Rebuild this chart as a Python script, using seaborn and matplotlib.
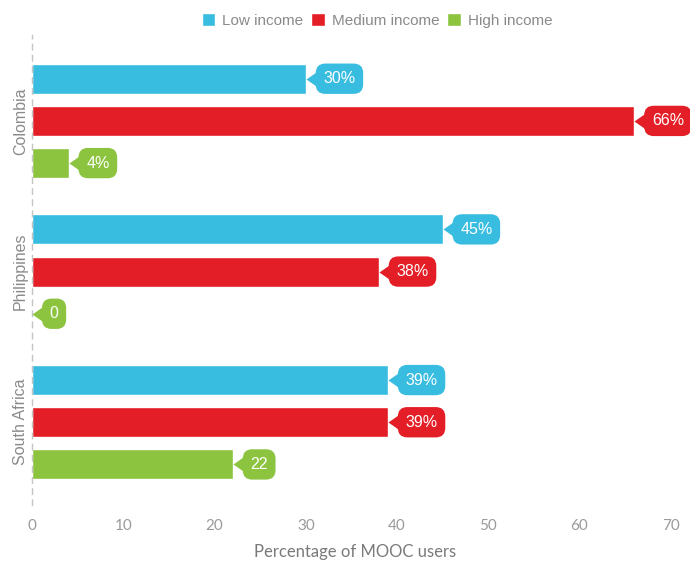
import pandas as pd
import seaborn as sns
import matplotlib.pyplot as plt

countries = ["Colombia", "Philippines", "South Africa"]
income_groups = ["Low income", "Medium income", "High income"]
low_income = [30, 45, 39]
medium_income = [66, 38, 39]
high_income = [4, 0, 22]
low_labels = ["30%", "45%", "39%"]
medium_labels = ["66%", "38%", "39%"]
high_labels = ["4%", "0", "22"]
x_ticks = [0, 10, 20, 30, 40, 50, 60, 70]

colors = ["#38BDE0", "#E41E26", "#8CC43F"]

rows = []
for grp, vals, labs in zip(income_groups,
                           [low_income, medium_income, high_income],
                           [low_labels, medium_labels, high_labels]):
    for c, v, l in zip(countries, vals, labs):
        rows.append({"country": c, "income": grp, "value": v, "label": l})
df = pd.DataFrame(rows)

sns.set_style("white")
plt.rcParams["font.family"] = ["Liberation Sans", "DejaVu Sans"]

fig = plt.figure(figsize=(6.9, 5.65), dpi=100)
ax = fig.add_axes([0.0464, 0.106, 0.9362, 0.832])

sns.barplot(data=df, x="value", y="country", hue="income", orient="h",
            order=countries, hue_order=income_groups, palette=colors,
            saturation=1, width=0.84, gap=0.29, ax=ax)

# callout labels: a small pointer at the bar end plus a rounded box
pointer = [(0, 0), (1, 0.7), (1, -0.7)]
for container, grp, col in zip(ax.containers, income_groups, colors):
    sub = df[df["income"] == grp].set_index("country").loc[countries]
    for bar, lab in zip(container, sub["label"]):
        w = bar.get_width()
        yc = bar.get_y() + bar.get_height() / 2
        ax.plot(w, yc, marker=pointer, ms=17, color=col, mew=0,
                zorder=5, clip_on=False)
        ax.annotate(lab, xy=(w, yc), xytext=(12.7, 0),
                    textcoords="offset points", ha="left", va="center",
                    color="white", fontsize=11.5, fontweight="medium",
                    zorder=6, annotation_clip=False,
                    bbox=dict(boxstyle="round,pad=0.48,rounding_size=0.6",
                              fc=col, ec="none"))

ax.set_xlim(0, 70.8)
ax.set_ylim(2.55, -0.57)
ax.set_xticks(x_ticks)
ax.set_xticklabels([str(t) for t in x_ticks], family="Lato",
                   fontsize=11, color="#9a9a9a")
ax.set_xlabel("Percentage of MOOC users", family="Lato", fontsize=12,
              color="#7a7a7a", labelpad=8)
ax.set_ylabel("")
ax.tick_params(axis="both", length=0)
ax.tick_params(axis="x", pad=10)
for lab in ax.get_yticklabels():
    lab.set_rotation(90)
    lab.set_va("center")
    lab.set_fontsize(11.5)
    lab.set_color("#8a8a8a")
ax.tick_params(axis="y", pad=3)

for side in ["top", "right", "bottom"]:
    ax.spines[side].set_visible(False)
ax.spines["left"].set_linestyle((0, (4, 4)))
ax.spines["left"].set_color("#c4c4c4")
ax.spines["left"].set_linewidth(1)

sns.move_legend(ax, "lower center", bbox_to_anchor=(377 / 690, 0.94),
                bbox_transform=fig.transFigure, ncol=3,
                frameon=False, title=None, fontsize=11,
                handlelength=0.9, handleheight=0.9, handletextpad=0.45,
                columnspacing=0.5, borderaxespad=0)
for t in ax.get_legend().get_texts():
    t.set_color("#8a8a8a")

fig.savefig("out.png", dpi=100)
